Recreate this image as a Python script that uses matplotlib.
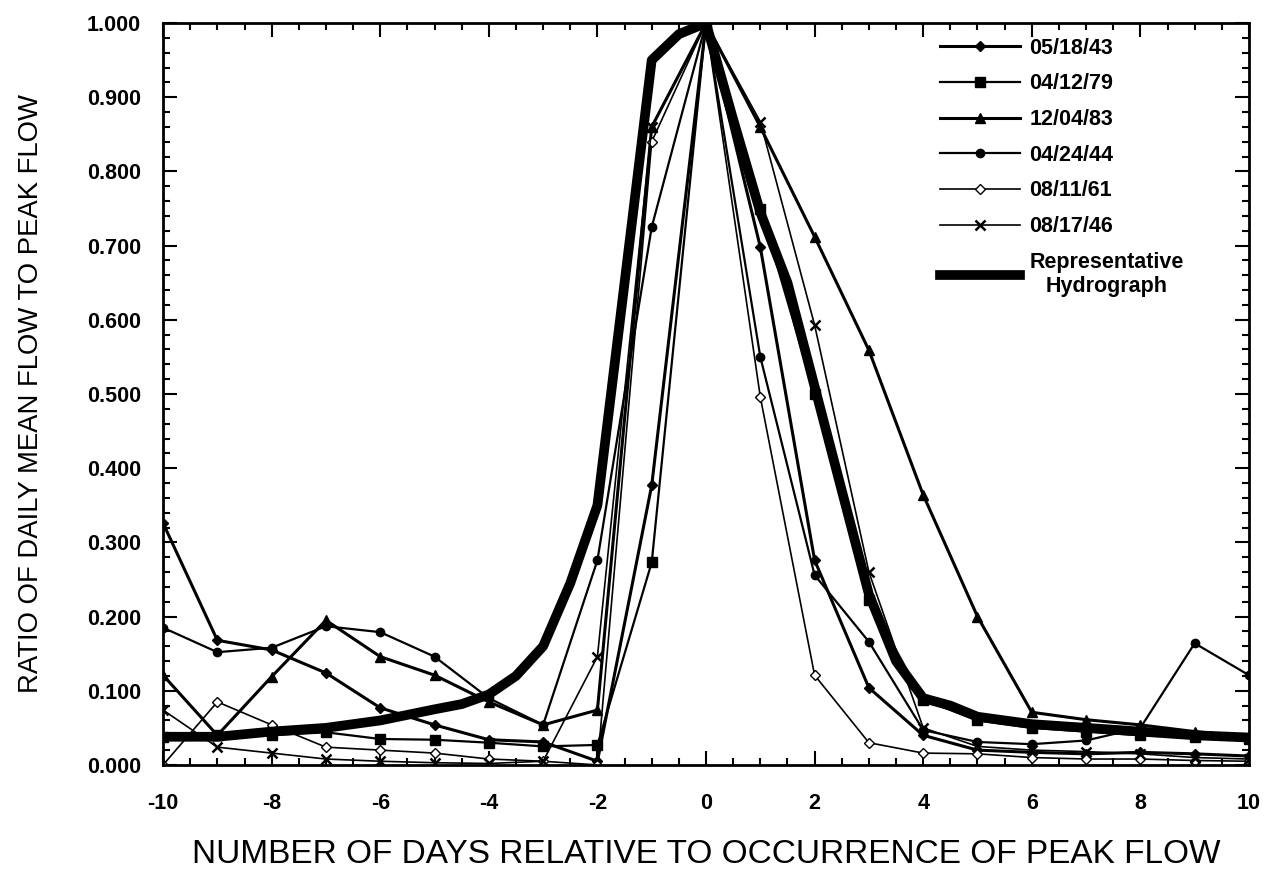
#!/usr/bin/env python3
#
from matplotlib import pyplot as plt
from matplotlib.ticker import MultipleLocator, FormatStrFormatter

plt.rcParams['font.family'] = ['Liberation Sans', 'DejaVu Sans']
plt.rcParams['font.weight'] = 'bold'
plt.rcParams['axes.unicode_minus'] = False

dagen = [-10, -9, -8, -7, -6, -5, -4, -3, -2, -1, 0, 1, 2, 3, 4, 5, 6, 7, 8, 9, 10]

flow_051843 = [0.326, 0.168, 0.155, 0.124, 0.077, 0.054, 0.034, 0.031, 0.005, 0.377, 1.0,
               0.698, 0.276, 0.104, 0.040, 0.020, 0.017, 0.015, 0.017, 0.015, 0.012]
flow_041279 = [0.038, 0.040, 0.040, 0.044, 0.035, 0.034, 0.030, 0.025, 0.027, 0.273, 1.0,
               0.750, 0.500, 0.222, 0.088, 0.060, 0.050, 0.045, 0.040, 0.038, 0.035]
flow_120483 = [0.121, 0.040, 0.119, 0.195, 0.146, 0.121, 0.085, 0.054, 0.074, 0.860, 1.0,
               0.860, 0.712, 0.559, 0.364, 0.200, 0.071, 0.061, 0.054, 0.045, 0.038]
flow_042444 = [0.185, 0.152, 0.158, 0.187, 0.179, 0.146, 0.090, 0.054, 0.276, 0.725, 1.0,
               0.550, 0.256, 0.166, 0.047, 0.031, 0.028, 0.033, 0.050, 0.164, 0.121]
flow_081161 = [0.000, 0.085, 0.054, 0.024, 0.020, 0.016, 0.008, 0.005, 0.000, 0.840, 1.0,
               0.496, 0.121, 0.030, 0.016, 0.015, 0.010, 0.008, 0.008, 0.006, 0.005]
flow_081746 = [0.074, 0.024, 0.016, 0.008, 0.005, 0.003, 0.002, 0.005, 0.146, 0.860, 1.0,
               0.867, 0.593, 0.260, 0.050, 0.025, 0.020, 0.018, 0.015, 0.010, 0.008]

# representatieve hydrograaf, halve dagen rond de piek
repr_dagen = [-10, -9, -8, -7, -6, -5, -4.5, -4, -3.5, -3, -2.5, -2, -1.5, -1, -0.5, 0,
              0.5, 1, 1.5, 2, 2.5, 3, 3.5, 4, 4.5, 5, 6, 7, 8, 9, 10]
repr_flow = [0.038, 0.038, 0.045, 0.050, 0.060, 0.075, 0.082, 0.095, 0.120, 0.160, 0.245,
             0.350, 0.650, 0.950, 0.985, 1.0, 0.870, 0.745, 0.650, 0.510, 0.370, 0.230,
             0.140, 0.090, 0.080, 0.065, 0.055, 0.050, 0.045, 0.040, 0.037]

fig = plt.figure(figsize=(12.86, 8.82), dpi=100)
ax = fig.add_axes([0.1268, 0.1327, 0.8444, 0.8412])

ax.plot(dagen, flow_051843, color='black', linewidth=2.2, marker='D', markersize=5,
        label='05/18/43')
ax.plot(dagen, flow_041279, color='black', linewidth=1.6, marker='s', markersize=7,
        label='04/12/79')
ax.plot(dagen, flow_120483, color='black', linewidth=2.2, marker='^', markersize=7,
        label='12/04/83')
ax.plot(dagen, flow_042444, color='black', linewidth=1.6, marker='o', markersize=6,
        label='04/24/44')
ax.plot(dagen, flow_081161, color='black', linewidth=1.2, marker='D', markersize=5,
        markerfacecolor='white', label='08/11/61')
ax.plot(dagen, flow_081746, color='black', linewidth=1.2, marker='x', markersize=7,
        markeredgewidth=1.8, label='08/17/46')
ax.plot(repr_dagen, repr_flow, color='black', linewidth=7, solid_joinstyle='round',
        label='Representative\nHydrograph')

ax.set_xlim(-10, 10)
ax.set_ylim(0, 1.0)

ax.xaxis.set_major_locator(MultipleLocator(2))
ax.xaxis.set_minor_locator(MultipleLocator(0.5))
ax.yaxis.set_major_locator(MultipleLocator(0.1))
ax.yaxis.set_minor_locator(MultipleLocator(0.02))
ax.yaxis.set_major_formatter(FormatStrFormatter('%.3f'))

ax.tick_params(which='both', direction='in', top=True, right=True, width=1.5,
               labelsize=15.5)
ax.tick_params(axis='x', pad=20)
ax.tick_params(axis='y', pad=16)
ax.tick_params(which='major', length=10)
ax.tick_params(which='minor', length=5)
for side in ax.spines.values():
    side.set_linewidth(2)

ax.set_xlabel('NUMBER OF DAYS RELATIVE TO OCCURRENCE OF PEAK FLOW', fontsize=24,
              fontweight='normal')
ax.set_ylabel('RATIO OF DAILY MEAN FLOW TO PEAK FLOW', fontsize=19.8, fontweight='normal')
ax.xaxis.set_label_coords(0.5, -0.1)
ax.yaxis.set_label_coords(-0.11, 0.5)

leg = ax.legend(loc='upper left', bbox_to_anchor=(0.7155, 0.98), frameon=False,
                fontsize=15.5, handlelength=3.7, handletextpad=0.45, labelspacing=0.68,
                borderaxespad=0, borderpad=0)
leg.get_texts()[-1].set_multialignment('center')

plt.savefig('out.png', dpi=100)
